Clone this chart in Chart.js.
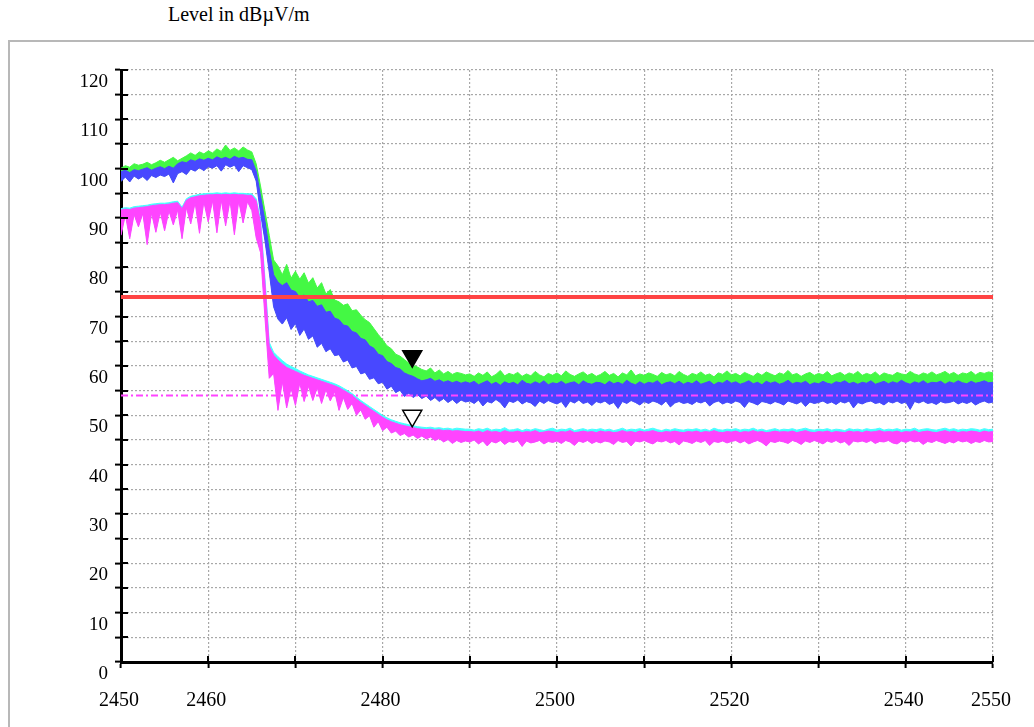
<!DOCTYPE html>
<html>
<head>
<meta charset="utf-8">
<script src="https://cdn.jsdelivr.net/npm/chart.js@4.4.0/dist/chart.umd.min.js"></script>
<style>
  html, body { margin: 0; padding: 0; background: #fff; width: 1034px; height: 727px; overflow: hidden; }
  #frame { position: absolute; left: 8px; top: 40px; width: 1100px; height: 800px;
           border-top: 2px solid #b8b8b8; border-left: 2px solid #b8b8b8; }
  #title { position: absolute; left: 168px; top: 4px; font-family: 'Liberation Serif', 'Times New Roman', serif;
           font-size: 20px; line-height: 20px; color: #000; white-space: nowrap; }
  #c { position: absolute; left: 0; top: 0; }
</style>
</head>
<body>
<div id="frame"></div>
<div id="title">Level in dBµV/m</div>
<canvas id="c" width="1034" height="727"></canvas>
<script>
// ---- DATA ----
const freq = [
2450,2450.5,2451,2451.5,2452,2452.5,2453,2453.5,2454,2454.5,
2455,2455.5,2456,2456.5,2457,2457.5,2458,2458.5,2459,2459.5,
2460,2460.5,2461,2461.5,2462,2462.5,2463,2463.5,2464,2464.5,
2465,2465.5,2466,2466.5,2467,2467.5,2468,2468.5,2469,2469.5,
2470,2470.5,2471,2471.5,2472,2472.5,2473,2473.5,2474,2474.5,
2475,2475.5,2476,2476.5,2477,2477.5,2478,2478.5,2479,2479.5,
2480,2480.5,2481,2481.5,2482,2482.5,2483,2483.5,2484,2484.5,
2485,2485.5,2486,2486.5,2487,2487.5,2488,2488.5,2489,2489.5,
2490,2490.5,2491,2491.5,2492,2492.5,2493,2493.5,2494,2494.5,
2495,2495.5,2496,2496.5,2497,2497.5,2498,2498.5,2499,2499.5,
2500,2500.5,2501,2501.5,2502,2502.5,2503,2503.5,2504,2504.5,
2505,2505.5,2506,2506.5,2507,2507.5,2508,2508.5,2509,2509.5,
2510,2510.5,2511,2511.5,2512,2512.5,2513,2513.5,2514,2514.5,
2515,2515.5,2516,2516.5,2517,2517.5,2518,2518.5,2519,2519.5,
2520,2520.5,2521,2521.5,2522,2522.5,2523,2523.5,2524,2524.5,
2525,2525.5,2526,2526.5,2527,2527.5,2528,2528.5,2529,2529.5,
2530,2530.5,2531,2531.5,2532,2532.5,2533,2533.5,2534,2534.5,
2535,2535.5,2536,2536.5,2537,2537.5,2538,2538.5,2539,2539.5,
2540,2540.5,2541,2541.5,2542,2542.5,2543,2543.5,2544,2544.5,
2545,2545.5,2546,2546.5,2547,2547.5,2548,2548.5,2549,2549.5,
2550];

// Peak trace (green), upper envelope
const peakMaxTop = [
100.1,100.6,100.3,101.0,100.7,100.9,101.3,100.8,101.2,101.7,
101.3,101.8,102.3,101.6,102.1,102.6,103.2,102.7,103.4,103.0,
103.6,103.2,104.0,103.5,104.8,103.7,104.2,103.6,104.4,103.8,
103.4,101.0,96.5,91.5,86.5,81.5,80.3,78.5,80.6,77.8,
79.2,77.6,78.9,76.8,77.9,75.8,76.9,74.6,75.5,73.4,
73.0,72.3,72.6,71.2,71.4,70.3,69.4,68.8,67.6,66.4,
65.3,64.1,63.5,62.4,62.0,61.3,60.6,60.1,59.8,59.3,
59.0,59.6,58.6,59.2,58.4,58.9,58.3,58.7,58.5,58.2,
58.4,57.9,58.6,58.1,58.8,57.8,58.3,59.1,58.0,58.5,
58.2,58.7,57.9,58.4,58.0,58.9,58.2,57.8,58.5,58.1,
58.6,58.0,59.0,58.3,57.9,58.4,58.8,58.1,58.5,57.9,
58.3,58.9,58.1,58.5,57.8,58.6,58.2,59.2,58.0,58.4,
58.1,58.6,58.3,57.9,58.7,58.2,58.5,58.0,58.9,58.3,
57.9,58.5,58.2,58.8,58.1,58.4,57.8,58.6,58.3,59.0,
58.2,58.5,58.0,58.7,58.3,57.9,58.6,58.1,58.8,58.4,
58.0,58.6,58.3,59.1,58.2,58.5,57.9,58.4,58.7,58.1,
58.5,58.2,58.9,58.0,58.4,58.7,58.1,58.6,58.3,58.9,
58.1,58.5,58.2,58.8,58.0,58.6,58.3,58.1,58.7,58.4,
58.2,58.9,58.4,58.1,58.6,58.3,58.8,58.2,58.5,58.9,
58.3,58.7,58.1,58.6,58.4,58.9,58.2,58.7,58.5,58.8,
58.6];

// Peak trace (blue), upper and lower envelope
const peakTop = [
99.4,99.7,99.2,99.8,99.6,99.9,100.2,99.7,100.1,100.4,
100.0,100.5,100.1,101.0,101.4,101.2,101.8,101.5,102.0,101.7,
102.1,101.8,102.4,102.0,102.3,101.9,102.5,102.1,102.3,101.9,
101.8,99.5,94.5,89.5,83.5,78.5,77.0,76.3,76.9,75.4,
75.1,73.9,74.4,73.0,73.3,72.1,72.4,70.9,71.1,69.7,
69.4,68.3,68.1,67.0,66.7,65.6,65.3,64.1,63.6,62.4,
62.1,60.9,60.5,59.7,59.4,58.6,58.2,57.9,57.4,57.0,
57.2,57.5,56.9,57.2,56.7,57.0,56.6,56.9,56.5,56.8,
56.5,56.9,56.2,56.6,57.0,56.3,56.7,56.1,56.8,56.4,
56.7,56.2,57.1,56.5,56.3,56.8,56.4,57.0,56.2,56.6,
56.4,56.9,56.3,56.6,56.8,56.2,57.0,56.5,56.3,56.7,
56.6,56.2,56.9,56.4,56.7,56.3,57.1,56.5,56.2,56.8,
56.3,56.7,56.5,57.0,56.2,56.6,56.8,56.4,56.9,56.3,
56.7,56.4,57.0,56.3,56.6,56.9,56.2,56.7,56.5,57.1,
56.5,56.8,56.3,56.6,57.0,56.4,56.7,56.2,56.9,56.5,
56.8,56.3,56.6,57.1,56.4,56.7,56.5,56.9,56.2,56.6,
56.4,56.9,56.5,56.3,56.8,56.6,57.0,56.4,56.7,56.3,
56.7,56.5,57.0,56.3,56.6,56.9,56.4,56.8,56.5,57.1,
56.6,56.3,56.8,56.5,57.0,56.4,56.7,56.6,56.9,56.3,
56.8,56.5,57.0,56.6,56.4,56.9,56.5,56.7,57.0,56.6,
56.7];

const peakBottom = [
97.4,98.3,97.3,98.5,97.9,98.4,97.6,98.6,98.2,98.7,
98.4,98.9,97.1,99.0,99.4,98.8,99.9,99.5,100.2,99.6,
100.4,100.1,100.6,99.5,100.8,100.3,100.7,99.4,100.6,100.2,
99.8,97.5,91.0,85.5,79.0,72.0,69.5,68.5,69.8,67.4,
68.6,66.2,67.5,65.4,66.1,63.8,64.6,62.9,63.5,62.1,
62.3,60.8,61.2,59.6,59.9,58.4,58.7,57.3,57.6,56.4,
56.7,55.3,55.9,54.6,55.1,53.8,54.5,53.6,54.2,53.4,
53.9,53.0,53.6,52.8,53.4,52.6,53.2,52.4,53.1,52.7,
52.9,52.4,53.1,51.9,52.8,52.5,53.2,52.6,51.5,52.9,
52.6,53.1,52.3,52.8,52.5,51.8,52.9,52.4,53.0,52.6,
52.3,52.8,51.6,52.9,52.5,53.1,52.4,52.7,52.0,52.8,
52.5,52.9,52.2,52.6,51.4,52.8,52.4,53.0,52.6,52.1,
52.8,52.4,52.9,52.6,52.1,52.9,51.7,52.5,52.8,52.4,
52.6,52.2,52.8,52.5,52.9,51.9,52.6,52.9,52.3,52.7,
52.4,52.9,52.6,51.6,52.8,52.5,52.1,52.8,52.6,52.3,
52.8,52.5,52.1,52.9,52.6,52.3,52.8,51.8,52.7,52.4,
52.6,52.9,52.4,52.7,52.2,52.8,52.5,52.9,51.5,52.6,
52.3,52.7,52.9,52.4,52.6,52.1,52.8,52.5,52.9,52.4,
52.7,51.2,52.8,52.5,52.9,52.4,52.6,52.2,52.8,52.5,
52.6,52.9,52.3,52.7,52.4,52.8,52.1,52.6,52.9,52.5,
52.7];

// Average trace (cyan), upper envelope
const avgMaxTop = [
91.9,92.1,92.0,92.3,92.4,92.5,92.6,92.8,92.9,93.0,
93.0,93.1,93.3,93.4,92.2,93.9,94.4,94.6,94.8,94.9,
95.0,95.0,95.1,95.0,95.1,95.0,95.1,95.0,95.0,94.9,
94.9,93.9,89.6,78.0,64.8,62.8,61.9,61.1,60.4,59.9,
59.5,59.0,58.6,58.2,57.9,57.6,57.3,57.0,56.7,56.4,
56.0,55.5,55.0,54.4,53.7,53.0,52.4,51.8,51.2,50.6,
50.0,49.5,49.1,48.8,48.5,48.3,48.1,47.9,47.7,47.6,
47.5,47.6,47.4,47.5,47.3,47.4,47.2,47.4,47.3,47.2,
47.2,47.0,47.3,47.1,47.4,47.0,47.2,47.1,47.5,47.0,
47.1,47.3,46.9,47.2,47.0,47.3,47.1,46.9,47.2,47.4,
47.0,47.2,47.1,47.4,46.9,47.1,47.3,47.0,47.2,47.1,
47.3,47.0,47.2,46.9,47.1,47.4,47.0,47.2,47.1,47.3,
47.0,47.2,47.4,47.1,46.9,47.2,47.0,47.3,47.1,47.0,
47.2,47.1,47.3,47.0,47.2,46.9,47.4,47.1,47.0,47.2,
47.1,47.3,47.0,47.2,47.1,47.4,47.0,47.2,46.9,47.1,
47.3,47.0,47.2,47.1,47.3,47.0,47.2,47.4,47.1,47.0,
47.2,47.1,47.3,47.0,47.2,47.1,46.9,47.3,47.1,47.2,
47.0,47.3,47.1,47.2,47.4,47.0,47.2,47.1,47.3,47.0,
47.2,47.1,47.4,47.0,47.2,47.3,47.1,47.0,47.2,47.4,
47.1,47.3,47.0,47.2,47.1,47.3,47.2,47.0,47.3,47.1,
47.2];

// Average trace (magenta), upper and lower envelope
const avgTop = [
91.6,91.8,91.7,92.0,92.1,92.2,92.3,92.5,92.6,92.7,
92.7,92.8,93.0,93.1,91.9,93.6,94.1,94.3,94.5,94.6,
94.7,94.7,94.8,94.7,94.8,94.7,94.8,94.7,94.7,94.6,
94.6,93.5,89.0,77.0,64.0,62.2,61.2,60.4,59.7,59.3,
58.9,58.5,58.1,57.8,57.5,57.2,56.9,56.6,56.3,56.0,
55.6,55.1,54.6,54.0,53.3,52.6,52.0,51.4,50.8,50.2,
49.6,49.1,48.7,48.4,48.1,47.9,47.7,47.5,47.3,47.2,
47.1,47.2,47.0,47.1,46.9,47.0,46.8,46.9,46.8,46.7,
46.7,46.6,46.8,46.5,46.9,46.6,46.7,46.5,46.9,46.6,
46.6,46.8,46.5,46.7,46.6,46.9,46.5,46.6,46.8,46.7,
46.5,46.7,46.6,46.9,46.5,46.6,46.8,46.6,46.7,46.5,
46.8,46.6,46.7,46.5,46.6,46.9,46.6,46.7,46.5,46.8,
46.6,46.7,46.9,46.6,46.5,46.7,46.6,46.8,46.6,46.5,
46.7,46.6,46.8,46.5,46.7,46.6,46.9,46.6,46.5,46.7,
46.6,46.8,46.5,46.7,46.6,46.9,46.6,46.7,46.5,46.6,
46.8,46.6,46.7,46.6,46.8,46.5,46.7,46.9,46.6,46.5,
46.7,46.6,46.8,46.5,46.7,46.6,46.5,46.8,46.6,46.7,
46.5,46.8,46.6,46.7,46.9,46.6,46.7,46.6,46.8,46.5,
46.7,46.6,46.9,46.5,46.7,46.8,46.6,46.5,46.7,46.9,
46.6,46.8,46.5,46.7,46.6,46.8,46.7,46.5,46.8,46.6,
46.7];

const avgBottom = [
86.5,90.6,85.8,90.7,88.2,90.9,84.6,91.0,87.1,91.2,
87.4,91.4,88.6,91.6,85.8,92.1,88.8,93.1,86.9,93.3,
89.2,93.5,87.0,93.6,88.4,93.5,86.6,93.4,89.0,93.3,
91.5,86.0,83.0,70.0,57.5,58.5,51.0,56.8,51.5,55.5,
52.0,56.5,52.8,55.9,53.0,55.6,52.4,55.2,52.9,54.8,
51.0,53.6,51.2,52.4,50.0,51.1,49.2,49.9,47.6,48.7,
46.9,47.6,46.4,46.8,45.9,46.3,45.6,46.0,45.3,45.8,
45.2,45.6,44.9,45.3,44.6,45.1,44.3,44.9,44.5,44.8,
44.6,45.0,44.2,44.8,43.8,44.7,44.4,44.9,44.1,44.7,
44.5,44.9,43.7,44.8,44.4,44.6,44.9,44.2,44.7,44.5,
44.8,44.3,44.9,44.6,43.9,44.8,44.5,44.9,44.3,44.7,
44.4,44.8,44.6,44.1,44.9,44.5,44.7,43.8,44.8,44.6,
44.9,44.5,44.2,44.8,44.6,44.9,44.4,44.7,44.0,44.8,
44.6,44.3,44.8,44.5,44.9,43.9,44.7,44.5,44.8,44.4,
44.7,44.9,44.4,44.8,44.2,44.6,44.9,44.5,43.8,44.7,
44.5,44.8,44.6,44.3,44.9,44.6,44.1,44.8,44.5,44.9,
44.6,44.2,44.8,44.5,44.9,44.4,44.7,43.9,44.8,44.6,
44.8,44.5,44.9,44.3,44.7,44.6,44.9,44.4,44.2,44.8,
44.5,44.9,44.6,44.8,44.1,44.7,44.5,44.9,44.6,44.3,
44.7,44.4,44.9,44.6,44.8,44.3,44.7,44.5,44.9,44.6,
44.7];

// Limit lines
const limitFreq = [2450, 2550];
const peakLimit = [74, 74];
const avgLimit = [54, 54];

// Markers
const markerFreq = [2483.4, 2483.4];
const markerLevel = [62.0, 49.9];

// Axis labels
const xTickLabels = [2450, 2460, 2480, 2500, 2520, 2540, 2550];
const yLabelStep = 10;

// ---- CHART ----
const pts = (xs, ys) => xs.map((x, i) => ({ x: x, y: ys[i] }));

const crossTicks = {
  id: 'crossTicks',
  afterDatasetsDraw(chart) {
    const { ctx, chartArea, scales } = chart;
    const xs = scales.x, ys = scales.y;
    ctx.save();
    ctx.strokeStyle = '#000';
    ctx.lineWidth = 2;
    ctx.beginPath();
    ys.ticks.forEach(t => {
      const p = Math.round(ys.getPixelForValue(t.value));
      ctx.moveTo(chartArea.left, p); ctx.lineTo(chartArea.left + 7, p);
    });
    xs.ticks.forEach(t => {
      const p = Math.round(xs.getPixelForValue(t.value));
      ctx.moveTo(p, chartArea.bottom); ctx.lineTo(p, chartArea.bottom - 6);
    });
    ctx.stroke();
    ctx.restore();
  }
};

const GREEN = '#44f844', BLUE = '#4848ff', CYAN = '#44ffff', MAGENTA = '#ff44ff', RED = '#ff4444';

const band = (label, data, color, fill, order) => ({
  label, data, order, borderColor: color, backgroundColor: color, borderWidth: 1,
  pointRadius: 0, tension: 0, fill: fill
});

new Chart(document.getElementById('c'), {
  type: 'line',
  data: {
    datasets: [
      { label: 'Markers', data: pts(markerFreq, markerLevel), order: 0, showLine: false,
        pointStyle: 'triangle', rotation: 180, pointRadius: 11, pointBorderWidth: 1.5,
        pointBorderColor: '#000', pointBackgroundColor: ['#000000', '#ffffff'] },
      { label: 'Peak limit', data: pts(limitFreq, peakLimit), order: 1, borderColor: RED,
        borderWidth: 4, pointRadius: 0, fill: false },
      { label: 'Average limit', data: pts(limitFreq, avgLimit), order: 2, borderColor: MAGENTA,
        borderWidth: 2, borderDash: [7, 3, 2, 3], pointRadius: 0, fill: false },
      band('Peak', pts(freq, peakTop), BLUE, 4, 3),
      band('Peak low', pts(freq, peakBottom), BLUE, false, 4),
      band('MaxPeak', pts(freq, peakMaxTop), GREEN, 4, 5),
      band('Average', pts(freq, avgTop), MAGENTA, 7, 6),
      band('Average low', pts(freq, avgBottom), MAGENTA, false, 7),
      band('MaxAverage', pts(freq, avgMaxTop), CYAN, 7, 8)
    ]
  },
  options: {
    responsive: false,
    animation: false,
    devicePixelRatio: 1,
    layout: { padding: { top: 70, right: 41, left: 0, bottom: 0 } },
    plugins: { legend: { display: false }, tooltip: { enabled: false }, title: { display: false } },
    scales: {
      x: {
        type: 'linear', min: 2450, max: 2550,
        afterFit: s => { s.height = 65; },
        border: { display: true, color: '#000', width: 3, dash: [2, 2] },
        grid: { color: '#a8a8a8', lineWidth: 1.2, drawTicks: true, tickLength: 6,
                tickColor: '#000', tickWidth: 2, tickBorderDash: [] },
        ticks: { stepSize: 10, autoSkip: false, maxRotation: 0, padding: 21, labelOffset: -2,
                 color: '#000', font: { family: "'Liberation Serif', 'Times New Roman', serif", size: 20 },
                 callback: v => xTickLabels.includes(v) ? String(v) : '' }
      },
      y: {
        type: 'linear', min: 0, max: 120,
        afterFit: s => { s.width = 121; },
        border: { display: true, color: '#000', width: 3, dash: [2, 2] },
        grid: { color: '#a8a8a8', lineWidth: 1.2, drawTicks: true, tickLength: 6,
                tickColor: '#000', tickWidth: 2, tickBorderDash: [] },
        ticks: { stepSize: 5, autoSkip: false, padding: 7, labelOffset: 12,
                 color: '#000', font: { family: "'Liberation Serif', 'Times New Roman', serif", size: 19 },
                 callback: v => (v % yLabelStep === 0) ? String(v) : '' }
      }
    }
  },
  plugins: [crossTicks]
});
</script>
</body>
</html>
